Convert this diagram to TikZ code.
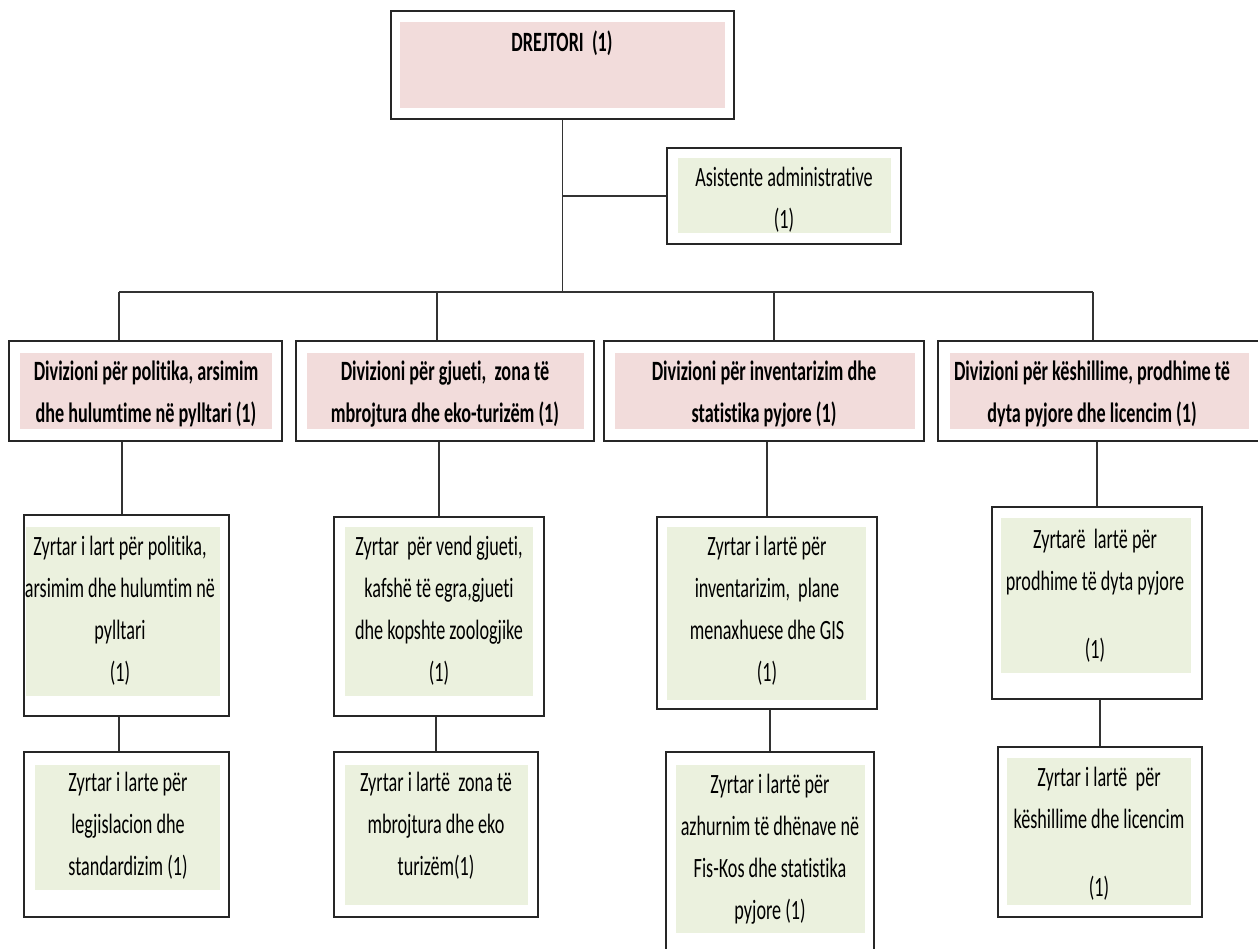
\documentclass[tikz,border=0pt]{standalone}
\usepackage{fontspec}
\setmainfont{Carlito}[FakeStretch=0.65, Ligatures=CommonOff]
\usetikzlibrary{fit}

\definecolor{divpink}{HTML}{F2DCDB}
\definecolor{staffgreen}{HTML}{EBF1DE}
\newcommand{\chartfont}{\fontsize{15.9}{23.9}\selectfont}

\tikzstyle{frame} = [draw=black!85, line width=1.1pt, fill=white,
  rectangle, inner sep=0pt]
\tikzstyle{divfill} = [fill=divpink, rectangle, inner sep=0pt]
\tikzstyle{stafffill} = [fill=staffgreen, rectangle, inner sep=0pt]
\tikzstyle{divtext} = [align=center, inner sep=0pt, font=\chartfont\bfseries]
\tikzstyle{stafftext} = [align=center, inner sep=0pt, font=\chartfont]
\tikzstyle{link} = [draw=black!80, line width=0.8pt]

\begin{document}
\begin{tikzpicture}[x=0.02cm, y=-0.02cm]
        \useasboundingbox (0,0) rectangle (1258,949);

        % director and assistant
        \node [frame, fit={(391,11) (734,119)}]    (dir)     {};
        \node [divfill, fit={(400,22) (725,108)}]  (dirbg)   {};
        \node [divtext] (dirlabel) at (562,43) {DREJTORI \ (1)};

        \node [frame, fit={(667,148) (901,244)}]     (asist)   {};
        \node [stafffill, fit={(678,158) (891,233)}] (asistbg) {};
        \node [stafftext] (asistlabel) at (784,200) {Asistente administrative\\(1)};

        % divisions
        \node [frame, fit={(9,341) (282,441)}]      (div1)   {};
        \node [divfill, fit={(20,353) (272,429)}]   (div1bg) {};
        \node [divtext] (div1label) at (146,394)
          {Divizioni për politika, arsimim\\dhe hulumtime në pylltari (1)};

        \node [frame, fit={(296,341) (594,441)}]    (div2)   {};
        \node [divfill, fit={(307,353) (584,429)}]  (div2bg) {};
        \node [divtext] (div2label) at (445,394)
          {Divizioni për gjueti, \ zona të\\mbrojtura dhe eko-turizëm (1)};

        \node [frame, fit={(604,341) (924,441)}]    (div3)   {};
        \node [divfill, fit={(615,353) (915,429)}]  (div3bg) {};
        \node [divtext] (div3label) at (764,394)
          {Divizioni për inventarizim dhe\\statistika pyjore (1)};

        \node [frame, fit={(938,341) (1262,441)}]   (div4)   {};
        \node [divfill, fit={(950,353) (1249,429)}] (div4bg) {};
        \node [divtext] (div4label) at (1092,394)
          {Divizioni për këshillime, prodhime të\\dyta pyjore dhe licencim (1)};

        % officers, first row
        \node [frame, fit={(24,515) (229,716)}]      (off1)   {};
        \node [stafffill, fit={(26,527) (220,696)}]  (off1bg) {};
        \node [stafftext] (off1label) at (120,611)
          {Zyrtar i lart për politika,\\arsimim dhe hulumtim në\\pylltari\\(1)};

        \node [frame, fit={(334,517) (544,716)}]     (off2)   {};
        \node [stafffill, fit={(345,527) (533,696)}] (off2bg) {};
        \node [stafftext] (off2label) at (439,611)
          {Zyrtar \ për vend gjueti,\\kafshë të egra,gjueti\\dhe kopshte zoologjike\\(1)};

        \node [frame, fit={(657,517) (877,709)}]     (off3)   {};
        \node [stafffill, fit={(667,527) (866,700)}] (off3bg) {};
        \node [stafftext] (off3label) at (767,611)
          {Zyrtar i lartë për\\inventarizim, \ plane\\menaxhuese dhe GIS\\(1)};

        \node [frame, fit={(992,507) (1202,699)}]     (off4)   {};
        \node [stafffill, fit={(1001,518) (1191,673)}] (off4bg) {};
        \node [stafftext] (off4label) at (1095,596)
          {Zyrtarë \ lartë për\\prodhime të dyta pyjore\\[15pt](1)};

        % officers, second row
        \node [frame, fit={(24,752) (229,917)}]      (off1b)   {};
        \node [stafffill, fit={(35,765) (220,890)}]  (off1bbg) {};
        \node [stafftext] (off1blabel) at (128,826)
          {Zyrtar i larte për\\legjislacion dhe\\standardizim (1)};

        \node [frame, fit={(334,752) (538,917)}]     (off2b)   {};
        \node [stafffill, fit={(345,765) (528,905)}] (off2bbg) {};
        \node [stafftext] (off2blabel) at (436,826)
          {Zyrtar i lartë \ zona të\\mbrojtura dhe eko\\turizëm(1)};

        \node [frame, fit={(666,752) (874,975)}]     (off3b)   {};
        \node [stafffill, fit={(676,765) (865,933)}] (off3bbg) {};
        \node [stafftext] (off3blabel) at (770,849)
          {Zyrtar i lartë për\\azhurnim të dhënave në\\Fis-Kos dhe statistika\\pyjore (1)};

        \node [frame, fit={(998,747) (1202,917)}]     (off4b)   {};
        \node [stafffill, fit={(1007,758) (1191,905)}] (off4bbg) {};
        \node [stafftext] (off4blabel) at (1099,834)
          {Zyrtar i lartë \ për\\këshillime dhe licencim\\[15pt](1)};

        % connectors
        \coordinate (bus1) at (119,292);
        \coordinate (bus2) at (437,292);
        \coordinate (bus3) at (774,292);
        \coordinate (bus4) at (1093,292);

        \draw[link] (dir.south) -- (dir.south |- bus1);
        \draw[link] (asist.west -| dir.south) -- (asist.west);
        \draw[link] (bus1) -- (bus4);
        \foreach \i in {1,...,4}
          \draw[link] (bus\i) -- (bus\i |- div\i.north);

        \draw[link] ([xshift=-0.09cm]off1.north) -- ([xshift=-0.09cm]off1.north |- div1.south);
        \foreach \i in {2,3,4}
          \draw[link] (off\i.north) -- (off\i.north |- div\i.south);

        \draw[link] ([xshift=-0.15cm]off1b.north) -- ([xshift=-0.15cm]off1b.north |- off1.south);
        \foreach \i in {2,3,4}
          \draw[link] (off\i b.north) -- (off\i b.north |- off\i.south);
      \end{tikzpicture}
\end{document}
